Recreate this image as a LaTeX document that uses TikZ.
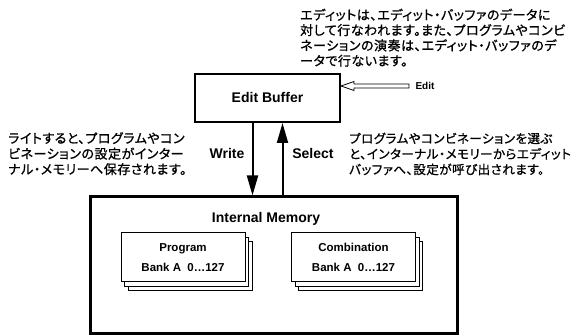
\documentclass[tikz,border=0pt]{standalone}
\usepackage{fontspec}
\setmainfont{Liberation Sans}
\newfontfamily\jpfont[FakeBold=1,RawFeature=+palt,LetterSpace=4]{Noto Sans CJK JP}
\usetikzlibrary{arrows.meta,positioning,shadows,calc}

\begin{document}
\begin{tikzpicture}[x=1pt,y=-1pt,every node/.style={font=\bfseries\fontsize{14}{16}\selectfont},
      frame/.style={draw,line width=2pt,minimum width=145pt,minimum height=48pt},
      bank/.style={draw,line width=1pt,fill=white,minimum width=124pt,minimum height=49pt,align=center,
        double copy shadow={shadow xshift=3.5pt,shadow yshift=-4.5pt,draw=black,fill=white,opacity=1,line width=1pt},
        font=\bfseries\fontsize{11.5}{20}\selectfont},
      note/.style={align=left,anchor=north west,inner sep=0pt,font=\jpfont\fontsize{13}{15.5}\selectfont},
      flow/.style={line width=2pt,-{Triangle[length=20pt,width=11pt]}}]
    \useasboundingbox (0,0) rectangle (579,336);
    % Edit buffer
    \node[frame] (eb) at (267.5,98) {Edit Buffer};
    \node[font=\bfseries\fontsize{10}{12}\selectfont] (editlbl) at (425,86) {Edit};
    \coordinate (tip) at (eb.east |- editlbl);
    \draw[line width=0.8pt,fill=white] (tip) -- ++(13,-4.5) -- ++(0,2.5)
         -- ([xshift=-3pt,yshift=2pt]editlbl.west) -- ([xshift=-3pt,yshift=-2pt]editlbl.west)
         -- ($(tip)+(13,2)$) -- ++(0,2.5) -- cycle;
    \node[note,font=\jpfont\fontsize{13}{15.3}\selectfont] (editnote) at (300,8.5) {エディットは、エディット・バッファのデータに\\
      対して行なわれます。また、プログラムやコンビ\\
      ネーションの演奏は、エディット・バッファのデ\\
      ータで行ないます。};
    % Internal memory
    \node[draw,line width=3pt,minimum width=367pt,minimum height=137pt] (im) at (273.5,265.5) {};
    \node (imlbl) at (266,219) {Internal Memory};
    \node[bank] (prog) at (183,257.5) {Program\\Bank A\ \ 0\dots127};
    \node[bank] (comb) at (353.5,257.5) {Combination\\Bank A\ \ 0\dots127};
    % Write / Select
    \draw[flow] ([xshift=-15pt]eb.south) -- ([xshift=-15pt]eb.south |- im.north);
    \draw[flow] ([xshift=15pt]eb.south |- im.north) -- ([xshift=15pt]eb.south);
    \node (write) at (227,153) {Write};
    \node (select) at (313,153) {Select};
    \node[note] (writenote) at (8,132) {ライトすると、プログラムやコン\\
      ビネーションの設定がインター\\
      ナル・メモリーへ保存されます。};
    \node[note,font=\jpfont\fontsize{12.5}{15.5}\selectfont] (selectnote) at (349,132.5) {プログラムやコンビネーションを選ぶ\\
      と、インターナル・メモリーからエディット\\
      バッファへ、設定が呼び出されます。};
  \end{tikzpicture}
\end{document}
